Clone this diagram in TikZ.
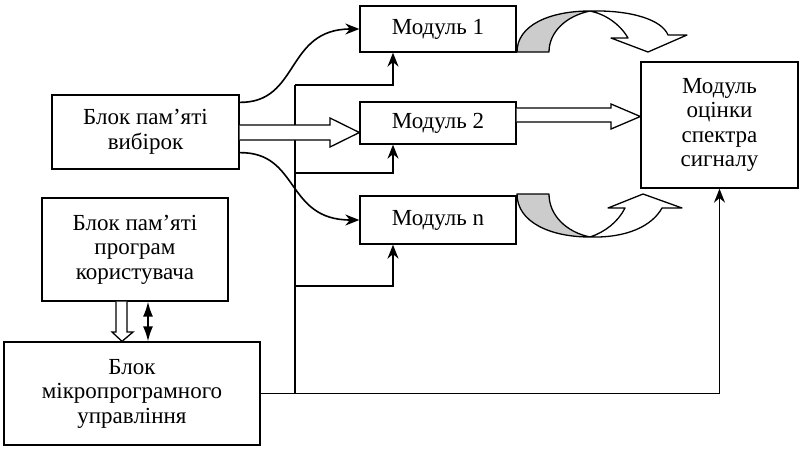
\documentclass[tikz,border=0pt]{standalone}
\usepackage{fontspec}
\setmainfont{Liberation Serif}
\usetikzlibrary{arrows.meta,calc,positioning}

\begin{document}
\begin{tikzpicture}[x=1pt,y=-1pt, line width=1.6pt,
  box/.style={draw, line width=1.3pt, align=center, inner sep=0pt, font=\fontsize{23}{24.5}\selectfont},
  hollow/.style={draw, line width=1.3pt, fill=white},
  ribbon/.style={draw, line width=1.3pt, line join=round},
  >={Stealth[length=14pt,width=11pt]}]
\useasboundingbox (0,0) rectangle (800,448);
% blocks
\node[box, minimum width=187, minimum height=74] (mem) at (145.5,132) {Блок пам’яті\\вибірок};
\node[box, minimum width=186, minimum height=103] (prog) at (135,249.5) {Блок пам’яті\\програм\\користувача};
\node[box, minimum width=256, minimum height=103] (ctrl) at (132,393.5) {Блок\\мікропрограмного\\управління};
\node[box, minimum width=156, minimum height=46] (m1) at (438,29) {Модуль 1};
\node[box, minimum width=156, minimum height=42] (m2) at (438,123) {Модуль 2};
\node[box, minimum width=156, minimum height=48] (mn) at (438,220) {Модуль n};
\node[box, minimum width=157, minimum height=126] (spec) at (719.5,125) {Модуль\\оцінки\\спектра\\сигналу};
% control bus
\draw[->] (ctrl.east) -| (spec.south);
\draw (295,0 |- ctrl.east) -- (295,85);
\foreach \m/\y in {m1/85,m2/173,mn/286}
  \draw[->] (295,\y) -| ([xshift=-45pt]\m.south);
% data from memory
\draw[->] ([yshift=-8pt]mem.north east) .. controls (300,103) and (285,29) .. (m1.west);
\draw[->] ([yshift=17pt]mem.south east) .. controls (300,152) and (285,220) .. (mn.west);
\path[hollow] (mem.east |- 0,125) -- (330,125) -- (330,118) -- (m2.west |- 0,132.5)
  -- (330,147) -- (330,140) -- (mem.east |- 0,140);
\path[hollow] (m2.east |- 0,108) -- (611,108) -- (611,104) -- (spec.west |- 0,116.5)
  -- (611,129) -- (611,122) -- (m2.east |- 0,122);
% program memory to control
\path[hollow] (116,0 |- prog.south) -- (116,332) -- (112,332) -- (122,0 |- ctrl.north)
  -- (133,332) -- (127,332) -- (127,0 |- prog.south);
\draw[{Latex[length=15pt,width=10pt]}-{Latex[length=15pt,width=10pt]}] (148,0 |- prog.south) -- (148,0 |- ctrl.north);
% curved arrows to the spectrum module
\path[ribbon, fill=gray!40] (517,52) .. controls (517,25) and (550,11) .. (590,11)
  .. controls (566,16) and (549,32) .. (549,52) -- cycle;
\path[ribbon, fill=white] (590,11) .. controls (632,10) and (662,20) .. (668,35) -- (687,35)
  -- (648,52) -- (611,38) -- (628,38) .. controls (620,24) and (605,14) .. (590,11);
\path[ribbon, fill=gray!40] (517,194) .. controls (517,222) and (550,237) .. (590,237)
  .. controls (566,232) and (549,215) .. (549,194) -- cycle;
\path[ribbon, fill=white] (590,237) .. controls (627,238) and (652,226) .. (662,208) -- (682,208)
  -- (643,194) -- (608,208) -- (625,208) .. controls (618,222) and (605,232) .. (590,237);
\end{tikzpicture}
\end{document}
